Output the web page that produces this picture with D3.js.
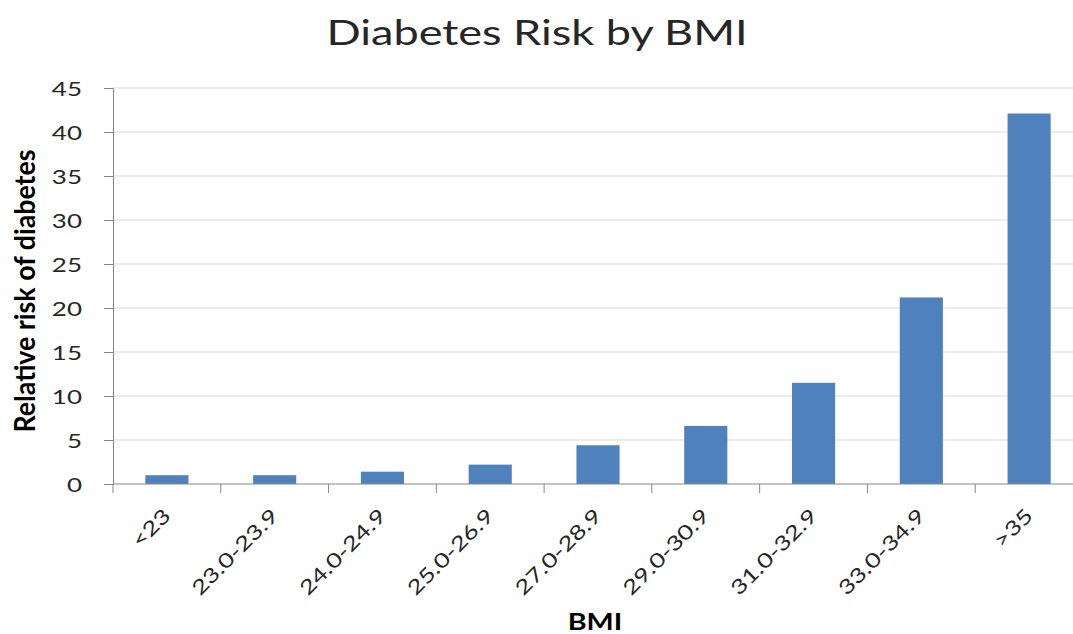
<!DOCTYPE html>
<html>
<head>
<meta charset="utf-8">
<script src="https://cdn.jsdelivr.net/npm/d3@7"></script>
<style>
  html, body { margin: 0; padding: 0; background: #fff; }
  svg { display: block; }
</style>
</head>
<body>
<svg id="chart" width="1073" height="634"></svg>
<script>
// BMI categories and relative risk of diabetes
const categories = ["<23", "23.0-23.9", "24.0-24.9", "25.0-26.9", "27.0-28.9", "29.0-30.9", "31.0-32.9", "33.0-34.9", ">35"];
const riskValues = [1.0, 1.0, 1.4, 2.2, 4.4, 6.6, 11.5, 21.2, 42.1];
const yTicks = [0, 5, 10, 15, 20, 25, 30, 35, 40, 45];

const svg = d3.select("#chart");
const W = 1073, H = 634;
const plotLeft = 113, plotRight = 1083, plotTop = 88, plotBottom = 484;
const stretch = 1.3;           // wide text face used throughout the chart
const font = "Lato, 'Open Sans', sans-serif";
const textColor = "#262626";

const x = d3.scaleBand().domain(categories).range([plotLeft, plotRight]).paddingInner(0.6).paddingOuter(0.3);
const y = d3.scaleLinear().domain([0, 45]).range([plotBottom, plotTop]);

// gridlines
svg.append("g")
  .selectAll("line")
  .data(yTicks.filter(d => d > 0))
  .join("line")
  .attr("x1", plotLeft).attr("x2", W)
  .attr("y1", d => y(d)).attr("y2", d => y(d))
  .attr("stroke", "#d9d9d9").attr("stroke-width", 1);

// bars
svg.append("g")
  .selectAll("rect")
  .data(riskValues)
  .join("rect")
  .attr("x", (d, i) => x(categories[i]))
  .attr("width", x.bandwidth())
  .attr("y", d => y(d))
  .attr("height", d => y(0) - y(d))
  .attr("fill", "#4f81bd");

// y axis
const yAxis = svg.append("g")
  .attr("transform", `translate(${plotLeft},0)`)
  .call(d3.axisLeft(y).tickValues(yTicks).tickSize(9));
yAxis.select(".domain").attr("stroke", "#868686");
yAxis.selectAll(".tick line").attr("stroke", "#868686");
yAxis.selectAll(".tick text")
  .attr("x", null)
  .attr("transform", `translate(-31,0) scale(${stretch},1)`)
  .attr("text-anchor", "end")
  .attr("dy", "0.35em")
  .attr("font-family", font).attr("font-size", 20).attr("fill", textColor);

// x axis: baseline with ticks at category boundaries
const xg = svg.append("g");
xg.append("line")
  .attr("x1", plotLeft).attr("x2", W)
  .attr("y1", plotBottom).attr("y2", plotBottom)
  .attr("stroke", "#868686");
xg.selectAll("line.tk")
  .data(d3.range(categories.length + 1))
  .join("line")
  .attr("class", "tk")
  .attr("x1", i => plotLeft + i * x.step())
  .attr("x2", i => plotLeft + i * x.step())
  .attr("y1", plotBottom).attr("y2", plotBottom + 9)
  .attr("stroke", "#868686");

// slanted category labels, ending just right of each bar's centre
xg.selectAll("text")
  .data(categories)
  .join("text")
  .attr("transform", d => `translate(${x(d) + x.bandwidth() / 2 + 5},${plotBottom + 33}) rotate(-45) scale(${stretch},1)`)
  .attr("text-anchor", "end")
  .attr("font-family", font).attr("font-size", 20).attr("fill", textColor)
  .text(d => d);

// title
svg.append("text")
  .attr("transform", `translate(537,45) scale(${stretch},1)`)
  .attr("text-anchor", "middle")
  .attr("font-family", font).attr("font-size", 35).attr("fill", textColor)
  .attr("textLength", 324).attr("lengthAdjust", "spacingAndGlyphs")
  .text("Diabetes Risk by BMI");

// axis titles
svg.append("text")
  .attr("transform", `translate(35,291) scale(${stretch},1) rotate(-90)`)
  .attr("text-anchor", "middle")
  .attr("font-family", font)
  .attr("font-weight", "bold").attr("font-size", 22).attr("fill", "#000")
  .attr("textLength", 283).attr("lengthAdjust", "spacingAndGlyphs")
  .text("Relative risk of diabetes");

svg.append("text")
  .attr("transform", `translate(595,630) scale(1.25,1)`)
  .attr("text-anchor", "middle")
  .attr("font-family", font)
  .attr("font-weight", "bold").attr("font-size", 23).attr("fill", "#000")
  .text("BMI");
</script>
</body>
</html>
